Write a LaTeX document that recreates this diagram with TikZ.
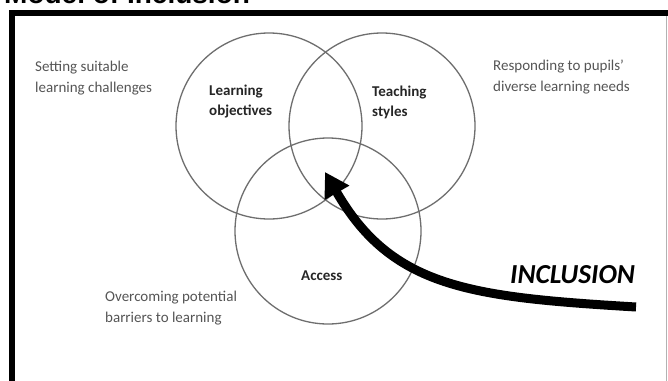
\documentclass[tikz,border=0pt]{standalone}
\usepackage{fontspec}
\setmainfont{Carlito}
\newfontfamily\titlefont{Liberation Sans}
\usetikzlibrary{arrows.meta}
\definecolor{sidegrey}{HTML}{555555}
\definecolor{labeldark}{HTML}{262626}
\definecolor{ringgrey}{HTML}{6E6E6E}
\begin{document}
\begin{tikzpicture}[x=1pt,y=-1pt,
  ring/.style={draw=ringgrey,line width=1.3pt},
  sidetext/.style={anchor=base west,inner sep=0pt,align=left,text=sidegrey,
    font=\fontsize{15}{21}\selectfont},
  setlabel/.style={anchor=base west,inner sep=0pt,align=left,text=labeldark,
    font=\bfseries\fontsize{15}{19.5}\selectfont},
  bigarrow/.style={line width=9pt,-{Triangle[length=24pt,width=27pt]}}
]
\useasboundingbox (0,0) rectangle (668,380);
\clip (0,0) rectangle (668,380);
\fill[white] (0,0) rectangle (668,380);
% title (cut off at the top)
\node[anchor=base west,inner sep=0pt,font=\titlefont\bfseries\fontsize{28}{30}\selectfont] (title) at (4,3) {Model of Inclusion};
% frame
\draw[line width=6pt] (12,390) -- (12,13) -- (675,13);
\draw[gray!60,line width=1pt] (666.5,16) -- (666.5,390);
% circles
\node[ring,circle,minimum size=186pt,inner sep=0pt] (lo) at (269,126) {};
\node[ring,circle,minimum size=186pt,inner sep=0pt] (ts) at (382,126) {};
\node[ring,circle,minimum size=186pt,inner sep=0pt] (ac) at (328,231) {};
% labels (base anchor = baseline of the last line)
\node[setlabel] (lol) at (209,115) {Learning\\objectives};
\node[setlabel] (tsl) at (372,116) {Teaching\\styles};
\node[setlabel] (acl) at (301,280) {Access};
\node[sidetext] (s1) at (35,92) {Setting suitable\\learning challenges};
\node[sidetext] (s2) at (493,91) {Responding to pupils’\\diverse learning needs};
\node[sidetext] (s3) at (105,322) {Overcoming potential\\barriers to learning};
\node[anchor=base west,inner sep=0pt,font=\bfseries\itshape\fontsize{27.5}{30}\selectfont] (incl) at (510,283) {INCLUSION};
% arrow
\coordinate (astart) at (636,307);
\coordinate (atip) at (325,172);
\draw[bigarrow] (astart) .. controls (470,297) and (392,288) .. (atip);
\end{tikzpicture}
\end{document}
